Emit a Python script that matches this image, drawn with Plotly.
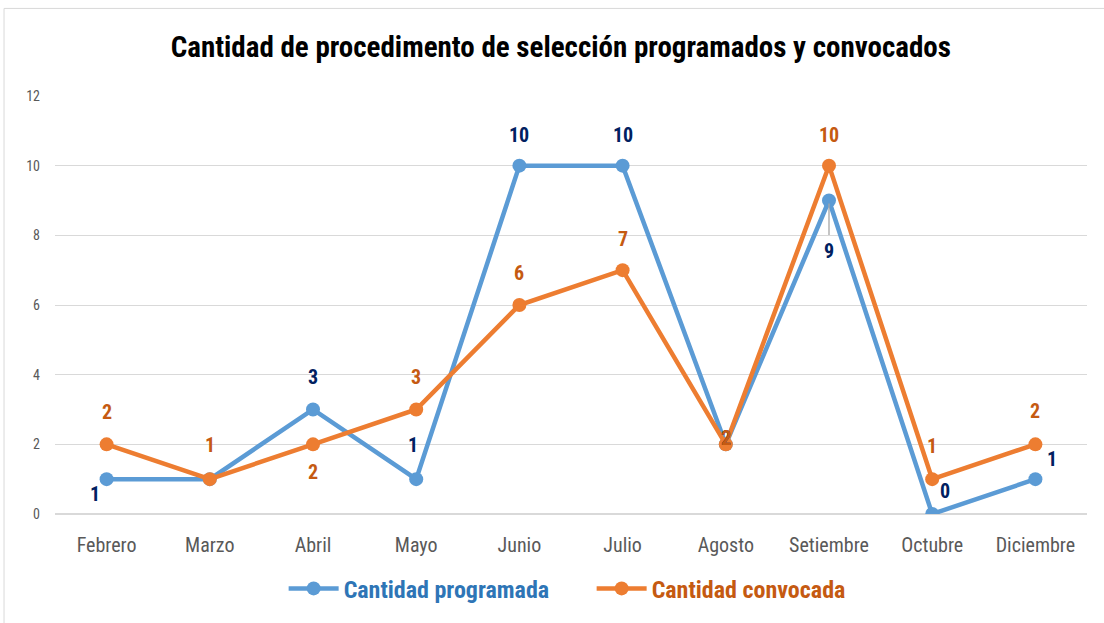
import plotly.graph_objects as go

months = ["Febrero", "Marzo", "Abril", "Mayo", "Junio", "Julio", "Agosto",
          "Setiembre", "Octubre", "Diciembre"]
programada = [1, 1, 3, 1, 10, 10, 2, 9, 0, 1]
convocada = [2, 1, 2, 3, 6, 7, 2, 10, 1, 2]
y_ticks = [0, 2, 4, 6, 8, 10, 12]

# label offsets (pixels) for data labels (None = label hidden)
prog_off = [(-12, -15), None, (0, 33), (-3, 34), (0, 31), (0, 31), (0, 6), (0, -50), (13, 23), (17, 20)]
conv_off = [(0, 32), (0, 34), (0, -28), (0, 33), (0, 32), (0, 31), (0, 6), (0, 31), (0, 33), (0, 33)]

FONT = "Roboto Condensed, Liberation Sans Narrow, Arial Narrow, sans-serif"
BLUE = "#5B9BD5"
ORANGE = "#ED7D31"
BLUE_LBL = "#002060"
ORANGE_LBL = "#C55A11"

fig = go.Figure()
fig.add_trace(go.Scatter(x=months, y=programada,
                         name="<b><span style='color:#2E75B6'>Cantidad programada</span></b>",
                         mode="lines+markers",
                         line=dict(color=BLUE, width=4.5),
                         marker=dict(color=BLUE, size=14)))
fig.add_trace(go.Scatter(x=months, y=convocada,
                         name="<b><span style='color:#C55A11'>Cantidad convocada</span></b>",
                         mode="lines+markers",
                         line=dict(color=ORANGE, width=4.5),
                         marker=dict(color=ORANGE, size=14)))

LBL = 20
annotations = []
for m, v, off in zip(months, programada, prog_off):
    if off is None:
        continue
    if off[1] < -40:
        annotations.append(dict(x=m, y=v, text=f"<b>{v}</b>", showarrow=True,
                                ax=0, ay=-off[1], arrowhead=0, arrowwidth=1.3,
                                arrowcolor="#A6A6A6", standoff=3, startstandoff=2,
                                font=dict(family=FONT, size=LBL, color=BLUE_LBL)))
    else:
        annotations.append(dict(x=m, y=v, text=f"<b>{v}</b>", showarrow=False,
                                xshift=off[0], yshift=off[1],
                                font=dict(family=FONT, size=LBL, color=BLUE_LBL)))
for m, v, off in zip(months, convocada, conv_off):
    annotations.append(dict(x=m, y=v, text=f"<b>{v}</b>", showarrow=False,
                            xshift=off[0], yshift=off[1],
                            font=dict(family=FONT, size=LBL, color=ORANGE_LBL)))

fig.update_layout(
    width=1104, height=623,
    paper_bgcolor="white", plot_bgcolor="white",
    margin=dict(l=55, r=17, t=96, b=107),
    title=dict(text="<b>Cantidad de procedimento de selección programados y convocados</b>",
               x=0.508, xanchor="center", y=0.9246, yanchor="middle",
               font=dict(family=FONT, size=29, color="#000000")),
    showlegend=True,
    legend=dict(orientation="h", x=0.52, xanchor="center", y=-0.179, yanchor="middle",
                font=dict(family=FONT, size=24), itemwidth=50, entrywidth=243,
                traceorder="normal"),
    annotations=annotations,
    shapes=[dict(type="rect", xref="paper", yref="paper",
                 x0=-0.0494, x1=1.2, y0=-0.5, y1=1.2095,
                 line=dict(color="#D9D9D9", width=1), fillcolor="rgba(0,0,0,0)",
                 layer="below")],
)
fig.update_xaxes(range=[-0.5, len(months) - 0.5], showgrid=False, showline=False,
                 zeroline=False, automargin=False,
                 tickfont=dict(family=FONT, size=20, color="#595959"),
                 ticks="", ticklabelstandoff=17)
fig.update_yaxes(range=[0, 12], tickvals=y_ticks, showgrid=True, gridcolor="#D9D9D9",
                 gridwidth=1, zeroline=True, zerolinecolor="#D9D9D9", showline=False,
                 automargin=False,
                 tickfont=dict(family=FONT, size=14, color="#595959"),
                 ticks="", ticklabelstandoff=14)

fig.write_html("out.html", config={"displayModeBar": False},
               post_script="document.body.style.margin='0';document.body.style.overflow='hidden';")
